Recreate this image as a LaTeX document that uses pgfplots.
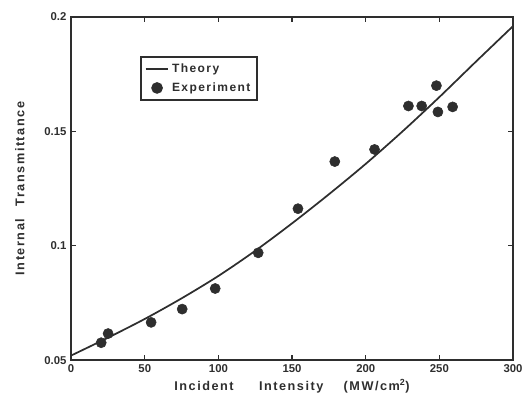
\documentclass[border=0pt]{standalone}
\usepackage{fontspec}
\setmainfont{Liberation Sans}
\newfontfamily\lbl[LetterSpace=12]{Liberation Sans}
\usepackage{pgfplots}
\pgfplotsset{compat=1.18}

\definecolor{ink}{HTML}{2E2E2E}

\begin{document}
\begin{tikzpicture}
\begin{axis}[
  scale only axis, width=331pt, height=257pt,
  xmin=0, xmax=300, ymin=0.05, ymax=0.2,
  xtick={0,50,...,300}, ytick={0.05,0.1,0.15,0.2},
  yticklabels={0.05,0.1,0.15,0.2},
  tick align=inside, major tick length=4pt,
  xtick pos=both, ytick pos=both,
  xticklabel pos=left, yticklabel pos=left,
  axis line style={ink, line width=1.1pt},
  every tick/.style={ink, line width=0.9pt},
  /pgf/number format/assume math mode=true,
  tick label style={font=\bfseries\fontsize{8.5}{10}\selectfont, text=ink},
  xlabel={\lbl\bfseries Incident\hspace{2em}Intensity\hspace{1.6em}(MW/cm\textsuperscript{2})},
  ylabel={\lbl\bfseries Internal\hspace{1em}Transmittance},
  label style={font=\fontsize{9.5}{11}\selectfont, text=ink},
  xlabel style={yshift=2pt},
  ylabel style={yshift=8pt},
  legend style={at={(rel axis cs:0.156,0.885)}, anchor=north west,
    draw=ink, line width=1.1pt, inner sep=3pt,
    font=\lbl\bfseries\fontsize{9}{11}\selectfont, text=ink,
    row sep=2pt},
  legend cell align=left,
]
\addplot[ink, line width=1.3pt, smooth] coordinates {
 (0,0.0520) (25,0.0598) (50,0.0680) (75,0.0770) (100,0.0868) (125,0.0978)
 (150,0.1098) (175,0.1225) (200,0.1358) (225,0.1500) (250,0.1650)
 (275,0.1806) (300,0.1960)};
\addlegendentry{Theory}
\addplot[only marks, mark=*, mark size=3.8pt, ink, mark options={fill=ink}] coordinates {
 (20.4,0.0576) (25.1,0.0616) (54.3,0.0665) (75.4,0.0723) (97.8,0.0813)
 (127,0.0969) (154,0.1162) (179,0.1368) (206,0.1421) (229,0.1611)
 (238,0.1611) (248,0.1700) (249,0.1585) (259,0.1607)};
\addlegendentry{Experiment}
\coordinate (ll) at (rel axis cs:-0.161,-0.131);
\coordinate (ur) at (rel axis cs:1.0226,1.0496);
\end{axis}
\pgfresetboundingbox
\path (ll) rectangle (ur);
\end{tikzpicture}
\end{document}
